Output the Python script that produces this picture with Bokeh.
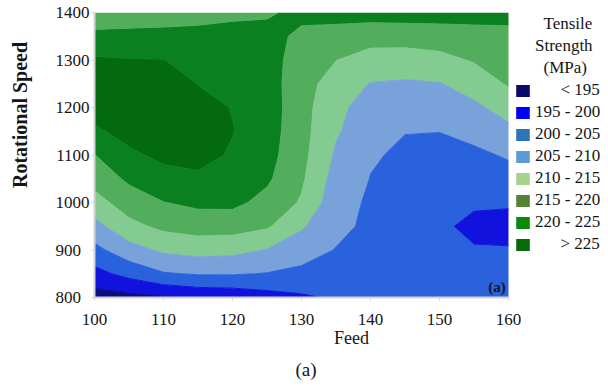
import numpy as np
from bokeh.plotting import figure
from bokeh.models import FixedTicker, Label, Legend, LegendItem, Title
from bokeh.embed import file_html
from bokeh.resources import INLINE

# ---- data (feed x rotational speed grid) ----
feed = [100, 105, 110, 115, 120, 125, 130, 135, 140, 145, 150, 155, 160]
speed = [800, 850, 900, 950, 1000, 1050, 1100, 1150, 1200, 1250, 1300, 1350, 1400]

ts_800 = [192.9, 193.5, 194.6, 196.0, 196.5, 198.0, 199.3, 200.6, 201.5, 201.5, 201.5, 201.3, 202.0]
ts_850 = [198.4, 201.6, 204.6, 205.4, 205.4, 204.8, 203.8, 203.0, 202.0, 201.8, 201.3, 201.0, 201.0]
ts_900 = [203.6, 208.1, 210.9, 211.9, 211.5, 209.8, 207.3, 204.8, 202.5, 202.0, 201.0, 200.4, 200.3]
ts_950 = [208.4, 213.6, 216.2, 217.2, 217.1, 215.7, 210.6, 206.3, 204.0, 202.3, 200.9, 198.8, 198.6]
ts_1000 = [213.1, 217.5, 219.9, 221.1, 221.2, 218.5, 214.5, 207.0, 204.3, 202.8, 201.0, 200.7, 200.5]
ts_1050 = [216.9, 220.9, 223.5, 224.2, 222.8, 220.8, 215.8, 208.0, 204.9, 203.3, 202.0, 202.4, 203.3]
ts_1100 = [219.9, 224.2, 226.0, 226.5, 224.5, 221.8, 216.5, 209.4, 205.4, 204.4, 203.2, 204.1, 205.5]
ts_1150 = [224.3, 226.5, 228.5, 227.5, 225.2, 222.3, 216.8, 210.5, 207.4, 205.1, 205.1, 206.4, 208.8]
ts_1200 = [227.0, 228.0, 229.0, 226.8, 224.8, 222.5, 217.0, 211.0, 208.3, 207.4, 207.6, 209.0, 212.0]
ts_1250 = [227.5, 228.0, 228.0, 224.9, 223.8, 222.3, 217.0, 212.8, 209.8, 209.4, 209.8, 212.2, 215.5]
ts_1300 = [225.7, 225.3, 225.1, 223.5, 222.8, 222.0, 217.8, 215.1, 213.3, 212.9, 213.7, 215.4, 217.4]
ts_1350 = [221.2, 221.3, 221.4, 221.7, 221.7, 221.3, 219.2, 218.0, 216.7, 217.0, 217.3, 218.2, 219.2]
ts_1400 = [217.0, 217.5, 217.8, 218.0, 219.0, 219.5, 221.0, 222.0, 222.5, 222.5, 222.5, 222.0, 221.0]

levels = [185, 195, 200, 205, 210, 215, 220, 225, 235]
legend_title = ["Tensile", "Strength", "(MPa)"]
legend_labels = ["< 195", "195 - 200", "200 - 205", "205 - 210",
                 "210 - 215", "215 - 220", "220 - 225", "> 225"]
plot_colors = ["#0c0c85", "#1212de", "#2962dc", "#7aa2da",
               "#83cb90", "#52ae5c", "#0a8020", "#036a10"]
legend_colors = ["#0a0a6a", "#0000f5", "#2e75b6", "#5b9bd5",
                 "#a9d18e", "#548235", "#0a8a0a", "#0a6a0a"]
x_ticks = [100, 110, 120, 130, 140, 150, 160]
y_ticks = [800, 900, 1000, 1100, 1200, 1300, 1400]

z = np.array([ts_800, ts_850, ts_900, ts_950, ts_1000, ts_1050, ts_1100,
              ts_1150, ts_1200, ts_1250, ts_1300, ts_1350, ts_1400])

SERIF = "Liberation Serif"
TXT = "#151515"
FS = "\u2007"  # figure space (digit width) used for alignment padding

# frame spans to the right edge so the legend (drawn inside it) is not clipped;
# the data area 100..160 occupies the first 414 px of the 514 px frame
x_end = 100 + 514 * (160 - 100) / 414

p = figure(width=608, height=387, x_range=(100, x_end), y_range=(800, 1400),
           output_backend="svg", toolbar_location=None,
           min_border_left=94, min_border_right=0, min_border_top=12,
           min_border_bottom=90)
p.outline_line_color = None
p.grid.visible = False
p.background_fill_color = "white"

line_cols = [plot_colors[0]] + plot_colors
p.contour(x=feed, y=speed, z=z, levels=levels, fill_color=plot_colors,
          line_color=line_cols, line_width=1)

for ax in (p.xaxis[0], p.yaxis[0]):
    ax.axis_line_color = "#d4d4d4"
    ax.axis_line_width = 2
    ax.major_tick_line_color = "#d4d4d4"
    ax.major_tick_in = 0
    ax.major_tick_out = 3
    ax.minor_tick_out = 0
    ax.minor_tick_in = 0
    ax.major_label_text_font = SERIF
    ax.major_label_text_font_size = "17px"
    ax.major_label_text_color = TXT
    ax.axis_label_text_font = SERIF
    ax.axis_label_text_color = TXT

p.xaxis.bounds = (100, 160)
p.xaxis.ticker = FixedTicker(ticks=x_ticks)
p.yaxis.ticker = FixedTicker(ticks=y_ticks)
p.xaxis.major_label_standoff = 13
p.yaxis.major_label_standoff = 2
p.yaxis.major_label_overrides = {t: str(t) + FS * (4 - len(str(t))) for t in y_ticks}

p.xaxis.axis_label = "Feed"
p.xaxis.axis_label_text_font_style = "normal"
p.xaxis.axis_label_text_font_size = "18px"
p.xaxis.axis_label_standoff = 0

p.yaxis.axis_label = FS * 8 + "Rotational Speed"
p.yaxis.axis_label_text_font_style = "bold"
p.yaxis.axis_label_text_font_size = "20px"
p.yaxis.axis_label_standoff = 22

# caption under the chart
p.add_layout(Title(text="(a)", align="left", offset=201, standoff=12,
                   text_font=SERIF, text_font_size="19px", text_font_style="normal",
                   text_color=TXT), "below")

# small bold tag inside the plot area (bottom right corner)
p.add_layout(Label(x=159.6, y=823, text="(a)", text_font=SERIF,
                   text_font_style="bold", text_font_size="15px", text_color=TXT,
                   text_align="right", text_baseline="middle"))

# legend (title lines are items with invisible swatches);
# proxies are zero-area quads at the grid corner so nothing shows in the plot
items = []
for t in legend_title:
    r = p.quad(left=[feed[0]], right=[feed[0]], top=[speed[0]], bottom=[speed[0]],
               fill_alpha=0, line_alpha=0)
    pad = {"Tensile": 1, "Strength": 0, "(MPa)": 1}[t]
    items.append(LegendItem(label=FS * pad + t, renderers=[r]))

width_em = {"<": 0.564, ">": 0.564, " ": 0.25, "-": 0.333}
for lab, col in zip(legend_labels, legend_colors):
    r = p.quad(left=[feed[0]], right=[feed[0]], top=[speed[0]], bottom=[speed[0]],
               fill_color=col, line_color=None)
    w = sum(width_em.get(ch, 0.5) for ch in lab)
    pad = int(round((3.833 - w) / 0.5))
    items.append(LegendItem(label=FS * pad + lab, renderers=[r]))

legend = Legend(items=items, location=(420, 43), padding=0, margin=0,
                spacing=2, glyph_width=17, glyph_height=15, label_standoff=4,
                label_height=20,
                label_text_font=SERIF, label_text_font_size="17px",
                label_text_color=TXT, border_line_color=None,
                background_fill_alpha=0)
p.add_layout(legend, "center")

open("out.html", "w").write(file_html(p, INLINE))
